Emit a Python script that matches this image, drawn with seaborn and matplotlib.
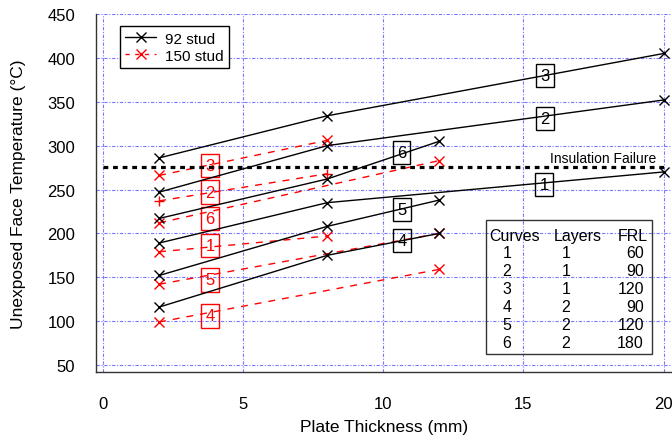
import matplotlib
matplotlib.use('Agg')
import matplotlib.pyplot as plt
from matplotlib.lines import Line2D
from matplotlib.patches import Rectangle
import seaborn as sns

# 92 stud curves (plate thickness mm, unexposed face temp C)
t92_1 = [2, 8, 20]
y92_1 = [189, 235, 270]
t92_2 = [2, 8, 20]
y92_2 = [247, 300, 352]
t92_3 = [2, 8, 20]
y92_3 = [286, 334, 405]
t92_4 = [2, 8, 12]
y92_4 = [116, 175, 200]
t92_5 = [2, 8, 12]
y92_5 = [152, 208, 238]
t92_6 = [2, 8, 12]
y92_6 = [217, 262, 305]

# 150 stud curves
t150_1 = [2, 8]
y150_1 = [179, 197]
t150_2 = [2, 8]
y150_2 = [237, 268]
t150_3 = [2, 8]
y150_3 = [266, 306]
t150_4 = [2, 12]
y150_4 = [99, 159]
t150_5 = [2, 12]
y150_5 = [142, 200]
t150_6 = [2, 12]
y150_6 = [212, 283]

insul_temp = 276

# table of curves
curve_ids = [1, 2, 3, 4, 5, 6]
layers = [1, 1, 1, 2, 2, 2]
frl = [60, 90, 120, 90, 120, 180]

# curve number labels (position of boxes)
black_labels = [('3', 15.77, 380), ('2', 15.77, 331), ('1', 15.73, 256),
                ('6', 10.65, 292), ('5', 10.67, 227), ('4', 10.67, 192)]
red_labels = [('3', 3.82, 277), ('2', 3.82, 247), ('6', 3.82, 217),
              ('1', 3.82, 186), ('5', 3.82, 147), ('4', 3.82, 106)]

sns.set_style('white')
plt.rcParams['font.family'] = ['Liberation Sans', 'DejaVu Sans']
plt.rcParams['text.color'] = 'black'
plt.rcParams['axes.labelcolor'] = 'black'

fig, ax = plt.subplots(figsize=(6.72, 4.39), dpi=100)
fig.subplots_adjust(left=0.1429, right=1.0, bottom=0.1503, top=0.9658)

ax.grid(True, color='#7878ff', linestyle=(0, (3, 1.5, 1, 1.5)), linewidth=0.8)
ax.set_axisbelow(True)

series_92 = [(t92_1, y92_1), (t92_2, y92_2), (t92_3, y92_3),
             (t92_4, y92_4), (t92_5, y92_5), (t92_6, y92_6)]
series_150 = [(t150_1, y150_1), (t150_2, y150_2), (t150_3, y150_3),
              (t150_4, y150_4), (t150_5, y150_5), (t150_6, y150_6)]

for i, (xs, ys) in enumerate(series_150):
    mk = '+' if i == 1 else 'x'
    sns.lineplot(x=xs, y=ys, ax=ax, color='red', linestyle=(0, (5, 5)),
                 linewidth=1, marker=mk, markersize=6.5, markeredgewidth=1,
                 markeredgecolor='red', zorder=3)

for xs, ys in series_92:
    sns.lineplot(x=xs, y=ys, ax=ax, color='black', linewidth=1,
                 marker='x', markersize=6.5, markeredgewidth=1,
                 markeredgecolor='black', zorder=4)

# insulation failure line
ax.hlines(insul_temp, 0, 20, colors='black', linewidth=2.3,
          linestyles=(0, (1.5, 1.5)), zorder=5)
ax.text(19.75, 281, 'Insulation Failure', ha='right', va='baseline', fontsize=10)

for s, x, y in black_labels:
    ax.text(x, y, s, ha='center', va='center', fontsize=12, color='black',
            bbox=dict(boxstyle='square,pad=0.25', fc='none', ec='black', lw=1))
for s, x, y in red_labels:
    ax.text(x, y, s, ha='center', va='center', fontsize=12, color='red',
            bbox=dict(boxstyle='square,pad=0.25', fc='none', ec='red', lw=1))

# table
ax.add_patch(Rectangle((13.66, 62.5), 5.93, 152.7, fill=False,
                       ec='#333333', lw=1, zorder=6))
row_y = [178, 157.5, 137, 116.5, 96, 75.5]
ax.text(13.77, 198, 'Curves', ha='left', va='center', fontsize=11.5)
ax.text(16.09, 198, 'Layers', ha='left', va='center', fontsize=11.5)
ax.text(19.44, 198, 'FRL', ha='right', va='center', fontsize=11.5)
for c, l, f, y in zip(curve_ids, layers, frl, row_y):
    ax.text(14.41, y, str(c), ha='center', va='center', fontsize=11.5)
    ax.text(16.52, y, str(l), ha='center', va='center', fontsize=11.5)
    ax.text(19.30, y, str(f), ha='right', va='center', fontsize=11.5)

handles = [
    Line2D([], [], color='black', lw=1, marker='x', markersize=6.5, mew=1),
    Line2D([], [], color='red', lw=1, linestyle=(0, (3, 4)), marker='x',
           markersize=6.5, mew=1),
]
leg = ax.legend(handles, ['92 stud', '150 stud'], loc='upper left',
                bbox_to_anchor=(0.0417, 0.966), fontsize=11, fancybox=False,
                edgecolor='black', framealpha=1, borderaxespad=0,
                handlelength=2, borderpad=0.35, labelspacing=0.2,
                handletextpad=0.6)
leg.get_frame().set_linewidth(1)

ax.set_xlim(-0.25, 20.3)
ax.set_ylim(42, 450)
ax.set_xticks([0, 5, 10, 15, 20])
ax.set_yticks(range(50, 451, 50))
ax.tick_params(axis='both', direction='out', length=10, width=1,
               color='#333333', labelcolor='black', labelsize=12)
ax.tick_params(axis='x', pad=7)
ax.tick_params(axis='y', pad=5)
ax.set_xlabel('Plate Thickness (mm)', fontsize=12.5)
ax.set_ylabel('Unexposed Face Temperature (\u00b0C)', fontsize=12.5)
ax.xaxis.set_label_coords(0.5, -0.151)
ax.xaxis.label.set_va('center')
ax.yaxis.set_label_coords(-0.135, 0.5)
ax.yaxis.label.set_va('center')

sns.despine(ax=ax)
for sp in ['left', 'bottom']:
    ax.spines[sp].set_color('#333333')
    ax.spines[sp].set_linewidth(1)

fig.savefig('out.png', dpi=100)
